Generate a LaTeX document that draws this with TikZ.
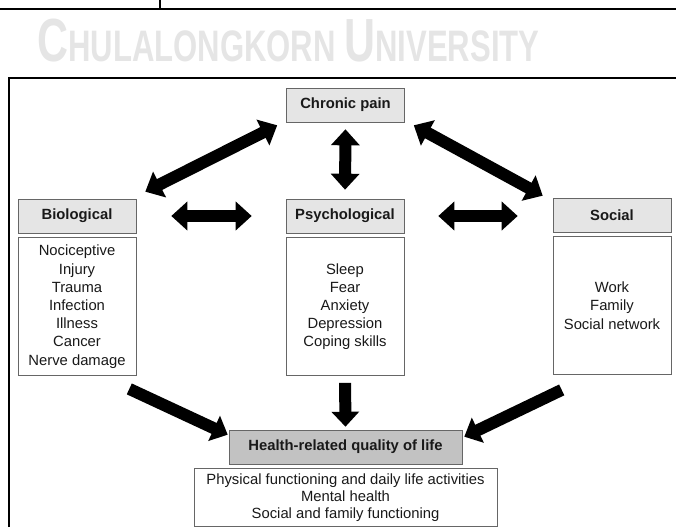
\documentclass[tikz,border=0pt]{standalone}
\usepackage{fontspec}
\setmainfont{Liberation Sans}
\usepackage{tikz}
\usetikzlibrary{arrows.meta, positioning}

\begin{document}
\begin{tikzpicture}[
    x=1pt, y=1pt,
    node distance=4pt,
    head/.style     = {rectangle, draw=black!60, fill=black!10, semithick,
                       minimum width=118pt, minimum height=34pt,
                       font=\bfseries\fontsize{14.8}{17}\selectfont, text=black!90},
    qol/.style      = {head, fill=black!24, minimum width=233pt},
    items/.style    = {rectangle, draw=black!60, semithick, fill=white,
                       minimum width=118pt, minimum height=138pt, align=center,
                       font=\fontsize{14.8}{18.2}\selectfont, text=black!90},
    outcomes/.style = {items, minimum width=303pt, minimum height=58pt,
                       font=\fontsize{14.8}{17.2}\selectfont},
    biarrow/.style  = {{Triangle[length=16pt, width=28pt]}-{Triangle[length=16pt, width=28pt]},
                       line width=12pt},
    arrow/.style    = {-{Triangle[length=15pt, width=27pt]}, line width=12pt},
    frame/.style    = {line width=2pt}
]
\useasboundingbox (0,0) rectangle (676,-527);

% ========= page decoration =========
\draw[frame] (0,-9) -- (676,-9);
\draw[frame] (160,0) -- (160,-9);
\node[anchor=base west, inner sep=0pt, text=black!10, font=\bfseries] (mark) at (37,-61)
    {\scalebox{0.74}[1.05]{\fontsize{58}{58}\selectfont C\fontsize{42}{42}\selectfont HULALONGKORN
     \fontsize{58}{58}\selectfont U\fontsize{42}{42}\selectfont NIVERSITY}};
\draw[frame] (9,-527) -- (9,-78) -- (676,-78);

% ========= factors =========
\node[head] (chronic) at (345.5,-105) {Chronic pain};
\node[head] (bio)     at (77,-216)    {Biological};
\node[head] (psych)   at (345,-216)   {Psychological};
\node[head] (social)  at (612,-215)   {Social};

\node[items, below=of bio]    (biolist)
    {Nociceptive\\Injury\\Trauma\\Infection\\Illness\\Cancer\\Nerve damage};
\node[items, below=of psych]  (psychlist)
    {Sleep\\Fear\\Anxiety\\Depression\\Coping skills};
\node[items, below=of social] (sociallist)
    {Work\\Family\\Social network};

% ========= outcome =========
\node[qol] (hrqol) at (345.5,-447) {Health-related quality of life};
\node[outcomes, below=of hrqol] (hrqollist)
    {Physical functioning and daily life activities\\Mental health\\Social and family functioning};

% ========= interactions =========
\draw[biarrow] ([shift={(-9,-3)}]chronic.south west) -- ([shift={(9,7)}]bio.north east);
\draw[biarrow] ([shift={(9,-3)}]chronic.south east) -- ([shift={(-10,2)}]social.north west);
\draw[biarrow, shorten <=7pt, shorten >=9pt] (chronic.south) -- (psych.north);
\draw[biarrow, shorten <=35pt, shorten >=34pt] (bio.east) -- (psych.west);
\draw[biarrow, shorten <=34pt, shorten >=35pt] (psych.east) -- (psych.east -| social.west);

% ========= effects on quality of life =========
\draw[arrow] ([shift={(-7,-13)}]biolist.south east) -- ([shift={(-1,-5)}]hrqol.north west);
\draw[arrow, shorten <=7pt, shorten >=3pt] (psychlist.south) -- (hrqol.north);
\draw[arrow] ([shift={(9,-15)}]sociallist.south west) -- ([shift={(2,-7)}]hrqol.north east);
\end{tikzpicture}
\end{document}
